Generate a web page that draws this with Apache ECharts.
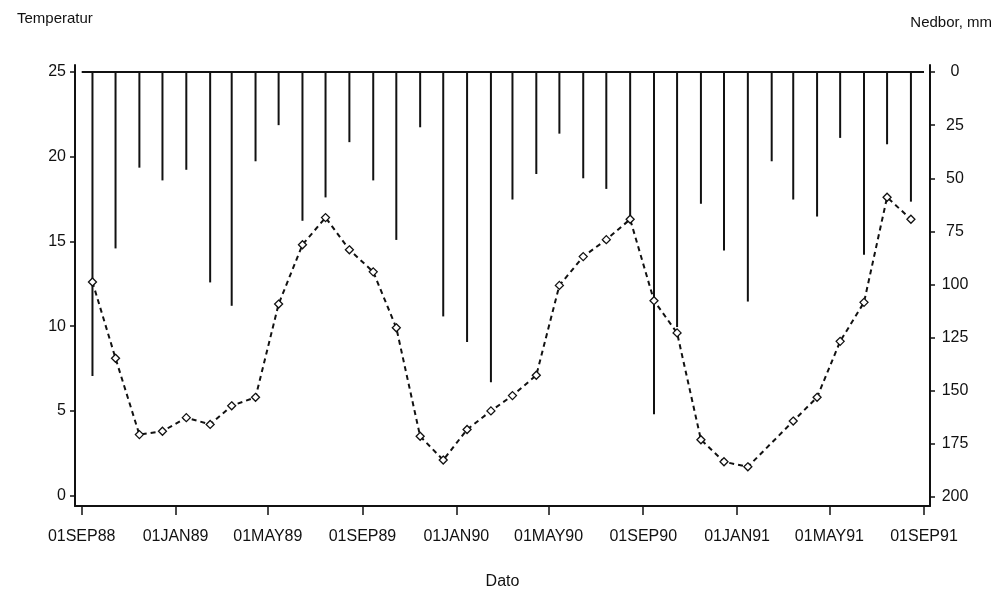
<!DOCTYPE html>
<html>
<head>
<meta charset="utf-8">
<script src="https://cdn.jsdelivr.net/npm/echarts@6/dist/echarts.min.js"></script>
<style>html,body{margin:0;padding:0;background:#fff}#c{width:1003px;height:590px}</style>
</head>
<body>
<div id="c"></div>
<script>
// Months (mid-month observations), Sep 1988 – Aug 1991
const months = ['1988-09','1988-10','1988-11','1988-12','1989-01','1989-02','1989-03','1989-04','1989-05','1989-06','1989-07','1989-08',
                '1989-09','1989-10','1989-11','1989-12','1990-01','1990-02','1990-03','1990-04','1990-05','1990-06','1990-07','1990-08',
                '1990-09','1990-10','1990-11','1990-12','1991-01','1991-02','1991-03','1991-04','1991-05','1991-06','1991-07','1991-08'];
// Temperature (left axis)
const temperature = [12.6, 8.1, 3.6, 3.8, 4.6, 4.2, 5.3, 5.8, 11.3, 14.8, 16.4, 14.5,
                     13.2, 9.9, 3.5, 2.1, 3.9, 5.0, 5.9, 7.1, 12.4, 14.1, 15.1, 16.3,
                     11.5, 9.6, 3.3, 2.0, 1.7, null, 4.4, 5.8, 9.1, 11.4, 17.6, 16.3];
// Precipitation, mm (right axis, inverted)
const precipitation = [143, 83, 45, 51, 46, 99, 110, 42, 25, 70, 59, 33,
                       51, 79, 26, 115, 127, 146, 60, 48, 29, 50, 55, 69,
                       161, 120, 62, 84, 108, 42, 60, 68, 31, 86, 34, 61];
// Tick labels
const xTicks = ['1988-09-01','1989-01-01','1989-05-01','1989-09-01','1990-01-01','1990-05-01','1990-09-01','1991-01-01','1991-05-01','1991-09-01'];
const tempTicks = [0, 5, 10, 15, 20, 25];
const precTicks = [0, 25, 50, 75, 100, 125, 150, 175, 200];
const baseRange = ['1988-09-01', '1991-09-01'];

const MON = ['JAN','FEB','MAR','APR','MAY','JUN','JUL','AUG','SEP','OCT','NOV','DEC'];
const DAY = 86400000;
function ts(s) { const p = s.split('-').map(Number); return Date.UTC(p[0], p[1] - 1, p.length > 2 ? p[2] : 15); }
function fmt(v) {
  const d = new Date(v);
  const dd = String(d.getUTCDate()).padStart(2, '0');
  return dd + MON[d.getUTCMonth()] + String(d.getUTCFullYear()).slice(2);
}
const xs = months.map(ts);
const tempData = xs.map((x, i) => [x, temperature[i]]);
const precData = xs.map((x, i) => [x, precipitation[i]]);
const xTickVals = xTicks.map(ts);
const xMin = ts(baseRange[0]) - 8.7 * DAY;
const xMax = ts(baseRange[1]) + 7.8 * DAY;

const FONT = 'Liberation Sans, Arial, sans-serif';
const INK = '#111';

const chart = echarts.init(document.getElementById('c'), null, { renderer: 'canvas' });
chart.setOption({
  backgroundColor: '#fff',
  animation: false,
  title: [
    { text: 'Temperatur', left: 12, top: 6, textStyle: { fontFamily: FONT, fontSize: 15, fontWeight: 'normal', color: INK } },
    { text: 'Nedbor, mm', right: 6, top: 10, textStyle: { fontFamily: FONT, fontSize: 15, fontWeight: 'normal', color: INK } }
  ],
  grid: { left: 75, right: 73, top: 65, bottom: 84, containLabel: false, outerBoundsMode: 'none' },
  xAxis: {
    type: 'value', min: xMin, max: xMax,
    name: 'Dato', nameLocation: 'middle', nameGap: 68,
    nameTextStyle: { fontFamily: FONT, fontSize: 16, color: INK },
    axisLine: { show: true, onZero: false, lineStyle: { color: INK, width: 2 } },
    axisTick: { show: true, length: 9, inside: false, customValues: xTickVals, lineStyle: { color: INK, width: 1.5 } },
    axisLabel: { customValues: xTickVals, formatter: fmt, margin: 23, fontFamily: FONT, fontSize: 16, color: INK },
    splitLine: { show: false }
  },
  yAxis: [
    {
      type: 'value', position: 'left', min: -0.61, max: 25.4,
      axisLine: { show: true, onZero: false, lineStyle: { color: INK, width: 2 } },
      axisTick: { show: true, length: 5, customValues: tempTicks, lineStyle: { color: INK, width: 1.5 } },
      axisLabel: { customValues: tempTicks, margin: 9, fontFamily: FONT, fontSize: 16, color: INK },
      splitLine: { show: false }
    },
    {
      type: 'value', position: 'right', inverse: true, min: -3.3, max: 204.2,
      axisLine: { show: true, onZero: false, lineStyle: { color: INK, width: 2 } },
      axisTick: { show: true, length: 5, customValues: precTicks, lineStyle: { color: INK, width: 1.5 } },
      axisLabel: { customValues: precTicks, margin: 25, align: 'center', fontFamily: FONT, fontSize: 16, color: INK },
      splitLine: { show: false }
    }
  ],
  series: [
    {
      type: 'line', yAxisIndex: 1, data: baseRange.map(s => [ts(s), 0]),
      symbol: 'none', lineStyle: { color: INK, width: 2 }, silent: true, z: 3
    },
    {
      type: 'bar', yAxisIndex: 1, data: precData, barWidth: 2,
      itemStyle: { color: INK }, z: 2
    },
    {
      type: 'line', yAxisIndex: 0, data: tempData, connectNulls: true,
      symbol: 'diamond', symbolSize: 8, showSymbol: true,
      lineStyle: { color: INK, width: 2, type: [5, 4] },
      itemStyle: { color: '#fff', borderColor: INK, borderWidth: 1.3 }, z: 4
    }
  ]
});
</script>
</body>
</html>
